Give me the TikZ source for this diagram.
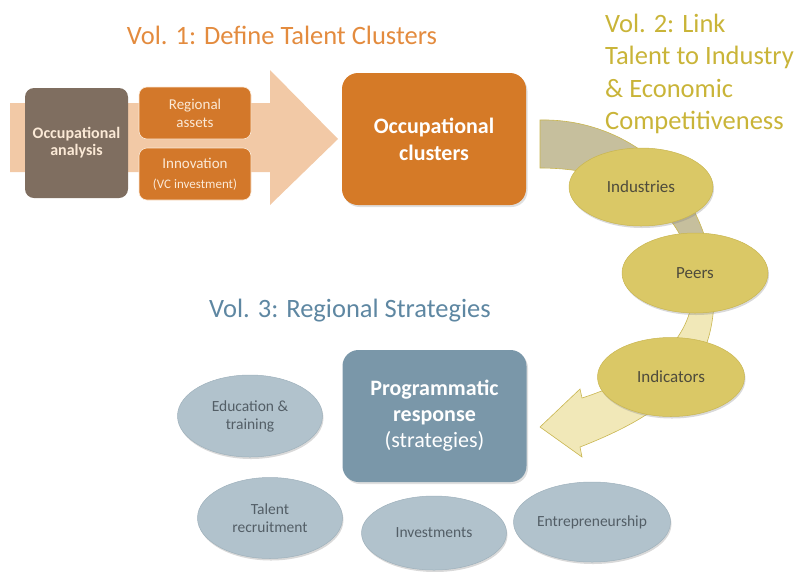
\documentclass[tikz,border=0pt]{standalone}
\usepackage{fontspec}
\setmainfont{Carlito}
\usepackage{tikz}
\usetikzlibrary{
  shapes.geometric,      % Ellipse nodes
  shadows                % Soft drop shadows
}

\definecolor{peach}{HTML}{F2C9A6}
\definecolor{brownbox}{HTML}{7F6E60}
\definecolor{orangebox}{HTML}{D3782A}
\definecolor{clusterorange}{HTML}{D57A27}
\definecolor{bluebox}{HTML}{7A97A9}
\definecolor{yellowell}{HTML}{DAC866}
\definecolor{yellowedge}{HTML}{C9B650}
\definecolor{grayell}{HTML}{B1C2CC}
\definecolor{grayedge}{HTML}{9FB1BC}
\definecolor{volone}{HTML}{E38B3E}
\definecolor{voltwo}{HTML}{C9B438}
\definecolor{volthree}{HTML}{5E87A2}
\definecolor{bandtop}{HTML}{C6BF9D}
\definecolor{bandbottom}{HTML}{F1E8B8}
\definecolor{cream}{HTML}{FBE9D6}
\definecolor{darktext}{HTML}{4E4B3C}
\definecolor{slatetext}{HTML}{535E66}

\tikzset{
  smallbox/.style={rectangle, rounded corners=8pt, fill=orangebox, draw=cream, line width=0.6pt,
    text=cream, align=center, inner sep=0pt, minimum width=112, minimum height=52},
  bigbox/.style={rectangle, rounded corners=16pt, align=center, inner sep=0pt,
    minimum width=184, minimum height=132,
    drop shadow={opacity=0.25, shadow xshift=1.5pt, shadow yshift=-2pt}},
  goldell/.style={ellipse, fill=yellowell, draw=yellowedge, line width=0.5pt, inner sep=0pt,
    text=darktext, font=\fontsize{17}{19}\selectfont, align=center,
    drop shadow={opacity=0.3, shadow xshift=1pt, shadow yshift=-2pt}},
  slateell/.style={ellipse, fill=grayell, draw=grayedge, line width=0.5pt, inner sep=0pt,
    text=slatetext, font=\fontsize{15.5}{18}\selectfont, align=center,
    drop shadow={opacity=0.3, shadow xshift=1pt, shadow yshift=-2pt}},
  voltitle/.style={font=\fontsize{26.5}{32.3}\selectfont, inner sep=0pt}
}

\def\bandpath{(540,120) .. controls (632,118) and (716,190) .. (714,300)
  .. controls (712,372) and (670,412) .. (580,447) -- (582,457) -- (540,427)
  -- (580,389) -- (582,398) .. controls (650,376) and (692,340) .. (693,290)
  .. controls (694,222) and (640,168) .. (540,168) -- cycle}

\begin{document}
\begin{tikzpicture}[x=1pt, y=-1pt]
            \useasboundingbox (0,0) rectangle (802,571);
            % Vol. 1
            \node[voltitle, text=volone] (volonetitle) at (282,35) {Vol. 1: Define Talent Clusters};
            \fill[peach] (10,103) -- (270,103) -- (270,70) -- (338,139) -- (270,205) -- (270,172) -- (10,172) -- cycle;
            \node[rectangle, rounded corners=9pt, fill=brownbox, minimum width=103, minimum height=110, inner sep=0pt,
              text=cream, align=center, font=\fontsize{16}{17}\bfseries] (occanalysis) at (76.5,143) {Occupational\\analysis};
            \node[smallbox, font=\fontsize{15}{18}\selectfont] (regassets) at (195,113) {Regional\\assets};
            \node[smallbox, font=\fontsize{15}{18}\selectfont] (innovation) at (195,174) {Innovation\\[2pt]{\fontsize{13}{15}\selectfont(VC investment)}};
            \node[bigbox, fill=clusterorange, text=white, font=\fontsize{22}{27}\bfseries] (occclusters) at (434,139) {Occupational\\clusters};
            % Vol. 2
            \node[voltitle, text=voltwo, anchor=west, align=left] (voltwotitle) at (605,74) {Vol. 2: Link\\Talent to Industry\\\& Economic\\Competitiveness};
            \begin{scope}
              \clip (500,100) rectangle (760,275);
              \fill[bandtop] \bandpath;
            \end{scope}
            \begin{scope}
              \clip (500,275) rectangle (760,470);
              \fill[bandbottom] \bandpath;
            \end{scope}
            \draw[yellowedge, line width=0.6pt] \bandpath;
            \node[goldell, minimum width=144, minimum height=78] (industries) at (641,187) {Industries};
            \node[goldell, minimum width=146, minimum height=80] (peers) at (695,273) {Peers};
            \node[goldell, minimum width=147, minimum height=79] (indicators) at (671,377) {Indicators};
            % Vol. 3
            \node[voltitle, text=volthree] (volthreetitle) at (350,311) {Vol. 3: Regional Strategies};
            \node[bigbox, fill=bluebox, text=white, font=\fontsize{22}{26}\selectfont] (progresp) at (434.5,416)
              {\bfseries Programmatic\\\bfseries response\\(strategies)};
            \node[slateell, minimum width=145, minimum height=82] (edutrain) at (250,416) {Education \&\\training};
            \node[slateell, minimum width=145, minimum height=81] (talentrec) at (270,518) {Talent\\recruitment};
            \node[slateell, minimum width=145, minimum height=74] (investments) at (434,533) {Investments};
            \node[slateell, minimum width=157, minimum height=80] (entrepreneur) at (592,522) {Entrepreneurship};
        \end{tikzpicture}
\end{document}
